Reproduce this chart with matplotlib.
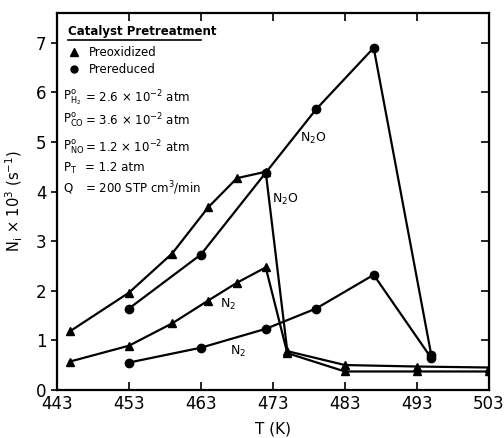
import matplotlib; matplotlib.use("Agg")
import matplotlib.pyplot as plt
from matplotlib.lines import Line2D

plt.rcParams.update({"font.family": ["DejaVu Sans"], "font.size": 12, "mathtext.default": "regular"})

# preoxidized catalyst (triangles)
T_ox = [444.8, 453, 459, 464, 468, 472, 475, 483, 493, 503]
n2o_ox = [1.18, 1.96, 2.75, 3.68, 4.27, 4.40, 0.78, 0.50, 0.47, 0.45]
n2_ox = [0.57, 0.89, 1.34, 1.80, 2.16, 2.47, 0.74, 0.37, 0.37, 0.37]
# prereduced catalyst (circles)
T_red = [453, 463, 472, 479, 487, 495]
n2o_red = [1.64, 2.73, 4.38, 5.66, 6.90, 0.70]
n2_red = [0.55, 0.85, 1.23, 1.64, 2.32, 0.64]

xticks = [443, 453, 463, 473, 483, 493, 503]
yticks = [0, 1, 2, 3, 4, 5, 6, 7]

fig = plt.figure(figsize=(5.04, 4.38), dpi=100)
ax = fig.add_axes([0.113, 0.110, 0.857, 0.860])
kw = dict(color="black", lw=1.6, ms=6)
ax.plot(T_ox, n2o_ox, "-^", **kw)
ax.plot(T_ox, n2_ox, "-^", **kw)
ax.plot(T_red, n2o_red, "-o", **kw)
ax.plot(T_red, n2_red, "-o", **kw)

ax.set_xlim(443, 503); ax.set_ylim(0, 7.6)
ax.set_xticks(xticks); ax.set_yticks(yticks)
ax.tick_params(axis="x", direction="in", top=True, length=6, width=1.2)
ax.tick_params(axis="y", direction="out", right=False, length=4, width=1.2)
for s in ax.spines.values(): s.set_linewidth(1.6)
# inward ticks on right spine
axr = ax.secondary_yaxis("right")
axr.set_yticks(yticks); axr.tick_params(direction="in", length=6, width=1.2, labelright=False)

ax.set_xlabel("T (K)", fontsize=11, labelpad=6)
ax.set_ylabel(r"N$_i$ × 10$^3$ (s$^{-1}$)", fontsize=10.5, labelpad=8)

# curve labels
ax.text(478.6, 5.07, r"N$_2$O", fontsize=9, ha="center", va="center")
ax.text(474.7, 3.84, r"N$_2$O", fontsize=9, ha="center", va="center")
ax.text(466.7, 1.72, r"N$_2$", fontsize=9, ha="center", va="center")
ax.text(468.1, 0.77, r"N$_2$", fontsize=9, ha="center", va="center")

# legend block
fs = 8.5
ax.text(0.025, 0.950, "Catalyst Pretreatment", transform=ax.transAxes, fontsize=fs,
        fontweight="bold", va="center")
ax.add_line(Line2D([0.025, 0.333], [0.928, 0.928], transform=ax.transAxes, color="black", lw=1.2))
handles = [Line2D([], [], ls="none", marker="^", color="black", ms=5.5),
           Line2D([], [], ls="none", marker="o", color="black", ms=5)]
ax.legend(handles, ["Preoxidized", "Prereduced"], loc="upper left", bbox_to_anchor=(0.005, 0.935),
          frameon=False, fontsize=fs, handlelength=1.2, handletextpad=0.6, labelspacing=0.35,
          borderpad=0.2)

rows = [(r"P$^{o}_{H_2}$", r"= 2.6 × 10$^{-2}$ atm", 0.777),
        (r"P$^{o}_{CO}$", r"= 3.6 × 10$^{-2}$ atm", 0.716),
        (r"P$^{o}_{NO}$", r"= 1.2 × 10$^{-2}$ atm", 0.645),
        (r"P$_T$", "= 1.2 atm", 0.589),
        ("Q", r"= 200 STP cm$^3$/min", 0.536)]
for lhs, rhs, yy in rows:
    ax.text(0.014, yy, lhs, transform=ax.transAxes, fontsize=fs, va="center")
    ax.text(0.066, yy, rhs, transform=ax.transAxes, fontsize=fs, va="center")

fig.savefig("out.png", dpi=100)
